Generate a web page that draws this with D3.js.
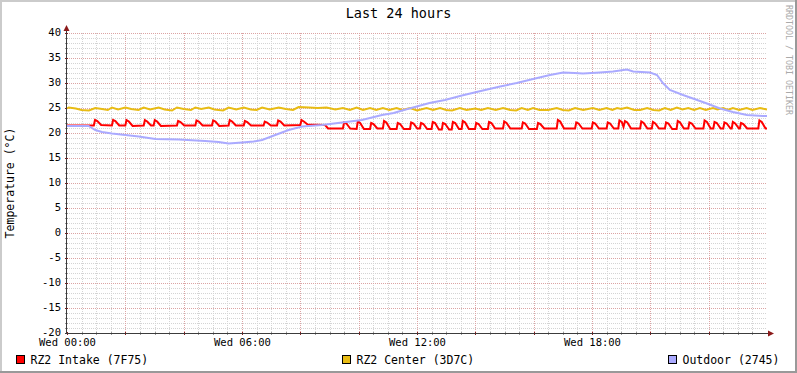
<!DOCTYPE html>
<html>
<head>
<meta charset="utf-8">
<script src="https://cdn.jsdelivr.net/npm/d3@7"></script>
<style>
  html, body { margin: 0; padding: 0; background: #fff; }
  svg { display: block; }
  text { font-family: "DejaVu Sans Mono", monospace; fill: #000; }
</style>
</head>
<body>
<svg id="chart"></svg>
<script>
// texts
const title = 'Last 24 hours';
const yLabel = 'Temperature (°C)';
const watermark = 'RRDTOOL / TOBI OETIKER';
const seriesNames = ['RZ2 Intake (7F75)', 'RZ2 Center (3D7C)', 'Outdoor (2745)'];
const seriesColors = ['#ff0000', '#e8bc14', '#aaaaff'];

// ticks
const yTicks = [-20, -15, -10, -5, 0, 5, 10, 15, 20, 25, 30, 35, 40];
const xTickHours = [0, 6, 12, 18];

// series: [hours since Wed 00:00, °C]
const intake = [
  [0, 21.5],
  [0.92, 21.5], [0.96, 22.6], [1.04, 22.4], [1.17, 21.6],
  [1.54, 21.5], [1.58, 22.6], [1.66, 22.4], [1.79, 21.5],
  [2.00, 21.5], [2.04, 22.6], [2.12, 22.3], [2.25, 21.4],
  [2.63, 21.5], [2.67, 22.6], [2.75, 22.3], [2.88, 21.5],
  [2.97, 21.5], [3.01, 22.6], [3.09, 22.3], [3.22, 21.4],
  [3.77, 21.5], [3.81, 22.4], [3.89, 22.2], [4.02, 21.5],
  [4.40, 21.5], [4.44, 22.5], [4.52, 22.3], [4.65, 21.5],
  [4.97, 21.5], [5.01, 22.5], [5.09, 22.3], [5.22, 21.4],
  [5.54, 21.5], [5.58, 22.6], [5.66, 22.3], [5.79, 21.5],
  [6.06, 21.5], [6.10, 22.4], [6.18, 22.2], [6.31, 21.5],
  [6.74, 21.5], [6.78, 22.3], [6.86, 22.1], [6.99, 21.5],
  [7.20, 21.5], [7.24, 22.5], [7.32, 22.3], [7.45, 21.5],
  [8.00, 21.6], [8.04, 22.6], [8.12, 22.3], [8.25, 21.7],
  [8.85, 21.6], [8.95, 20.9],
  [9.46, 20.9], [9.50, 22.1], [9.58, 21.9], [9.71, 20.9],
  [9.93, 20.8], [9.97, 22.3], [10.05, 22.0], [10.18, 20.8],
  [10.39, 20.8], [10.43, 22.0], [10.51, 21.8], [10.64, 20.9],
  [10.83, 20.9], [10.87, 22.4], [10.95, 22.1], [11.08, 20.8],
  [11.30, 20.8], [11.34, 22.0], [11.42, 21.8], [11.55, 20.8],
  [11.76, 20.8], [11.80, 22.1], [11.88, 21.9], [12.01, 20.9],
  [12.10, 20.9], [12.14, 22.0], [12.22, 21.8], [12.35, 20.8],
  [12.50, 20.8], [12.54, 22.2], [12.62, 22.0], [12.75, 20.7],
  [12.85, 20.7], [12.89, 22.0], [12.97, 21.8], [13.10, 20.7],
  [13.19, 20.7], [13.23, 22.2], [13.31, 22.0], [13.44, 20.8],
  [13.53, 20.8], [13.57, 22.4], [13.65, 22.1], [13.78, 20.8],
  [13.99, 20.8], [14.03, 22.0], [14.11, 21.8], [14.24, 20.8],
  [14.43, 20.8], [14.47, 22.2], [14.55, 22.0], [14.68, 20.9],
  [14.95, 20.9], [14.99, 22.3], [15.07, 22.0], [15.20, 20.9],
  [15.59, 20.9], [15.63, 22.1], [15.71, 21.9], [15.84, 20.8],
  [16.11, 20.8], [16.15, 22.0], [16.23, 21.8], [16.36, 20.9],
  [16.79, 20.9], [16.83, 22.6], [16.91, 22.3], [17.04, 20.9],
  [17.42, 20.9], [17.46, 22.1], [17.54, 21.9], [17.67, 20.9],
  [17.99, 20.9], [18.03, 22.1], [18.11, 21.9], [18.24, 20.9],
  [18.50, 20.9], [18.54, 22.1], [18.62, 21.9], [18.75, 20.9],
  [18.90, 20.9], [18.94, 22.5], [19.02, 22.2], [19.08, 21.2], [19.13, 22.4], [19.21, 22.1], [19.34, 20.9],
  [19.65, 20.9], [19.69, 22.3], [19.77, 22.0], [19.90, 20.9],
  [20.05, 20.9], [20.09, 22.2], [20.17, 21.9], [20.30, 20.9],
  [20.50, 20.9], [20.54, 22.1], [20.62, 21.9], [20.75, 20.8],
  [20.90, 20.8], [20.94, 22.4], [21.02, 22.1], [21.15, 20.9],
  [21.30, 20.9], [21.34, 22.1], [21.42, 21.9], [21.55, 20.9],
  [21.82, 20.9], [21.86, 22.5], [21.94, 22.2], [22.07, 20.9],
  [22.16, 20.9], [22.20, 22.2], [22.28, 22.0], [22.41, 20.9],
  [22.50, 20.9], [22.54, 22.1], [22.62, 21.9], [22.75, 20.9],
  [22.79, 20.9], [22.83, 22.2], [22.91, 21.9], [23.04, 20.9],
  [23.07, 20.9], [23.11, 22.0], [23.19, 21.8], [23.32, 20.9],
  [23.70, 20.9], [23.74, 22.5], [23.82, 22.2], [23.95, 20.9], [24, 20.9]
];

const center = [
  [0, 24.9], [0.06, 25.1], [0.3, 24.9], [0.5, 24.6], [0.75, 24.5], [0.97, 25.0], [1.2, 24.8], [1.4, 24.6],
  [1.54, 25.1], [1.75, 24.7], [2.0, 25.1], [2.2, 24.8], [2.45, 24.6], [2.63, 25.1], [2.85, 24.7], [3.14, 25.1],
  [3.35, 24.7], [3.6, 24.5], [3.77, 25.1], [4.0, 24.8], [4.25, 24.6], [4.40, 25.1], [4.6, 24.8], [4.86, 25.1],
  [5.05, 24.7], [5.35, 24.5], [5.54, 25.1], [5.8, 24.7], [6.06, 25.1], [6.3, 24.7], [6.5, 24.6], [6.69, 25.1],
  [6.95, 24.7], [7.26, 25.1], [7.5, 24.8], [7.75, 24.6], [7.94, 25.2], [8.3, 25.1], [8.6, 25.0], [8.9, 25.1],
  [9.2, 24.7], [9.46, 25.0], [9.7, 24.6], [9.93, 25.1], [10.15, 24.6], [10.39, 25.0], [10.6, 24.6], [10.83, 25.0],
  [11.05, 24.6], [11.30, 25.0], [11.5, 24.6], [11.76, 25.0], [12.0, 24.5], [12.33, 25.0], [12.55, 24.6], [12.79, 25.0],
  [13.0, 24.6], [13.2, 24.5], [13.47, 25.0], [13.7, 24.6], [14.0, 24.9], [14.2, 24.6], [14.43, 25.0], [14.7, 24.6],
  [14.95, 25.0], [15.2, 24.6], [15.4, 24.5], [15.59, 25.0], [15.8, 24.6], [15.98, 25.0], [16.2, 24.6], [16.5, 24.6],
  [16.79, 25.0], [17.0, 24.6], [17.2, 24.5], [17.42, 25.0], [17.7, 24.6], [18.03, 25.0], [18.25, 24.6], [18.50, 25.0],
  [18.7, 24.6], [18.86, 25.0], [19.0, 24.8], [19.2, 25.1], [19.45, 24.6], [19.65, 24.6], [19.89, 25.0], [20.1, 24.6],
  [20.3, 24.5], [20.50, 25.0], [20.7, 24.6], [20.91, 25.1], [21.1, 24.7], [21.30, 25.0], [21.5, 24.6], [21.7, 25.0],
  [21.9, 24.6], [22.15, 25.0], [22.3, 24.7], [22.5, 25.0], [22.65, 24.6], [22.83, 25.0], [23.05, 24.6], [23.3, 25.0],
  [23.5, 24.6], [23.76, 25.0], [24, 24.7]
];

const outdoor = [
  [0, 21.4], [0.74, 21.4], [0.97, 20.6], [1.2, 20.2], [1.54, 19.9], [2.0, 19.6], [2.46, 19.3], [3.03, 18.8],
  [3.83, 18.7], [4.74, 18.4], [5.2, 18.2], [5.54, 17.9], [6.0, 18.1], [6.4, 18.3], [6.69, 18.6], [7.14, 19.6],
  [7.6, 20.6], [8.06, 21.3], [8.74, 21.6], [9.43, 22.1], [10.11, 22.6], [10.8, 23.6], [11.2, 24.0], [11.55, 24.6],
  [11.93, 25.2], [12.43, 26.0], [12.96, 26.6], [13.54, 27.5], [14.26, 28.5], [14.85, 29.3], [15.42, 30.0], [15.98, 30.8],
  [16.56, 31.6], [17.01, 32.1], [17.4, 32.0], [17.69, 31.9], [18.27, 32.1], [18.72, 32.3], [19.2, 32.7], [19.41, 32.3],
  [19.99, 32.1], [20.23, 31.6], [20.43, 30.0], [20.67, 28.6], [21.12, 27.6], [21.46, 26.9], [21.94, 25.9], [22.39, 24.9],
  [22.83, 24.2], [23.31, 23.6], [23.86, 23.4], [24, 23.4]
];

const drawGraph = () => {
  // dimensions
  const width = 797;
  const height = 373;
  const left = 67, right = 767, top = 33, bottom = 333;
  const axisColor = '#3c3c3c';
  const arrowColor = '#8b1a1a';

  const t0 = new Date(2024, 0, 3, 0, 0); // a Wednesday
  const toDate = (h) => new Date(t0.getTime() + h * 3600e3);

  const svg = d3.select('#chart')
    .attr('width', width)
    .attr('height', height);

  // canvas + frame
  svg.append('rect').attr('width', width).attr('height', height).attr('fill', '#fff');
  svg.append('path').attr('d', `M1,${height} V1 H${width}`)
    .attr('fill', 'none').attr('stroke', '#cbcbcb').attr('stroke-width', 2);
  svg.append('path').attr('d', `M0,${height - 1} H${width - 1} V0`)
    .attr('fill', 'none').attr('stroke', '#999').attr('stroke-width', 2);

  // scales
  const xScale = d3.scaleTime()
    .domain([t0, toDate(24)])
    .range([left, right]);

  const yScale = d3.scaleLinear()
    .domain([-20, 40])
    .range([bottom, top]);

  // grid
  const grid = svg.append('g').attr('shape-rendering', 'crispEdges');
  const minorY = d3.range(-19, 41).filter((v) => v % 5 !== 0);
  const majorY = yTicks.filter((v) => v > -20);
  const minorX = d3.range(0.5, 24, 0.5).filter((h) => h % 2 !== 0);
  const majorX = d3.range(2, 24, 2);

  grid.selectAll('.minor-y').data(minorY).enter().append('line')
    .attr('x1', left).attr('x2', right)
    .attr('y1', (d) => Math.round(yScale(d)) + 0.5).attr('y2', (d) => Math.round(yScale(d)) + 0.5)
    .attr('stroke', '#d4d4d4').attr('stroke-dasharray', '1,1');
  grid.selectAll('.minor-x').data(minorX).enter().append('line')
    .attr('y1', top).attr('y2', bottom)
    .attr('x1', (d) => Math.round(xScale(toDate(d))) + 0.5).attr('x2', (d) => Math.round(xScale(toDate(d))) + 0.5)
    .attr('stroke', '#d4d4d4').attr('stroke-dasharray', '1,1');
  grid.selectAll('.major-y').data(majorY).enter().append('line')
    .attr('x1', left).attr('x2', right)
    .attr('y1', (d) => Math.round(yScale(d)) + 0.5).attr('y2', (d) => Math.round(yScale(d)) + 0.5)
    .attr('stroke', '#dca4a4').attr('stroke-dasharray', '1,1');
  grid.selectAll('.major-x').data(majorX).enter().append('line')
    .attr('y1', top).attr('y2', bottom)
    .attr('x1', (d) => Math.round(xScale(toDate(d))) + 0.5).attr('x2', (d) => Math.round(xScale(toDate(d))) + 0.5)
    .attr('stroke', '#dca4a4').attr('stroke-dasharray', '1,1');

  // small axis ticks
  grid.selectAll('.ytick').data(d3.range(-20, 41)).enter().append('line')
    .attr('x1', left - 2).attr('x2', left + 1)
    .attr('y1', (d) => Math.round(yScale(d)) + 0.5).attr('y2', (d) => Math.round(yScale(d)) + 0.5)
    .attr('stroke', (d) => d % 5 === 0 ? arrowColor : '#999');
  grid.selectAll('.xtick').data(d3.range(0, 24, 0.5)).enter().append('line')
    .attr('y1', bottom - 1).attr('y2', bottom + 2)
    .attr('x1', (d) => Math.round(xScale(toDate(d))) + 0.5).attr('x2', (d) => Math.round(xScale(toDate(d))) + 0.5)
    .attr('stroke', (d) => d % 2 === 0 ? arrowColor : '#999');

  // lines
  const line = d3.line()
    .x((d) => xScale(toDate(d[0])))
    .y((d) => yScale(d[1]));

  [intake, center, outdoor].forEach((series, i) => {
    svg.append('path')
      .datum(series)
      .attr('d', line)
      .attr('fill', 'none')
      .attr('stroke', seriesColors[i])
      .attr('stroke-width', 2)
      .attr('stroke-linejoin', 'miter');
  });

  // axes lines + arrows
  svg.append('line').attr('x1', left - 0.5).attr('x2', left - 0.5).attr('y1', bottom + 1).attr('y2', top - 5)
    .attr('stroke', axisColor);
  svg.append('line').attr('x1', left - 2).attr('x2', right + 3).attr('y1', bottom + 0.5).attr('y2', bottom + 0.5)
    .attr('stroke', axisColor);
  svg.append('path').attr('d', `M${left - 3.5},${top - 2} L${left - 0.5},${top - 8} L${left + 2.5},${top - 2} Z`)
    .attr('fill', arrowColor);
  svg.append('path').attr('d', `M${right + 1},${bottom - 2.5} L${right + 7},${bottom + 0.5} L${right + 1},${bottom + 3.5} Z`)
    .attr('fill', arrowColor);

  // y axis labels
  const yAxis = d3.axisLeft(yScale)
    .tickValues(yTicks)
    .tickSize(0)
    .tickPadding(0)
    .tickFormat((d) => String(d));

  svg.append('g')
    .attr('transform', `translate(${left - 6}, -1)`)
    .call(yAxis)
    .call((g) => g.select('.domain').remove())
    .selectAll('text')
    .style('font-family', '"DejaVu Sans Mono", monospace')
    .style('font-size', '10.5px')
    .attr('fill', '#000');

  // x axis labels
  const xAxis = d3.axisBottom(xScale)
    .tickValues(xTickHours.map(toDate))
    .tickSize(0)
    .tickPadding(0)
    .tickFormat(d3.timeFormat('%a %H:%M'));

  svg.append('g')
    .attr('transform', `translate(0, ${bottom + 6})`)
    .call(xAxis)
    .call((g) => g.select('.domain').remove())
    .selectAll('text')
    .style('font-family', '"DejaVu Sans Mono", monospace')
    .style('font-size', '10.5px')
    .attr('fill', '#000');

  // title
  svg.append('text')
    .attr('x', width / 2)
    .attr('y', 18)
    .attr('text-anchor', 'middle')
    .style('font-size', '13.5px')
    .text(title);

  // y-axis header
  svg.append('text')
    .attr('transform', `translate(14, ${(top + bottom) / 2}) rotate(-90)`)
    .attr('text-anchor', 'middle')
    .style('font-size', '11.5px')
    .text(yLabel);

  // watermark
  svg.append('text')
    .attr('transform', 'translate(785.5, 5) rotate(90)')
    .style('font-size', '8.3px')
    .style('fill', '#aaa')
    .text(watermark);

  // legend
  const legendX = [16, 342, 668];
  const legend = svg.selectAll('.legend')
    .data(seriesNames)
    .enter()
    .append('g')
    .attr('transform', (d, i) => `translate(${legendX[i]}, 355)`);

  legend.append('rect')
    .attr('x', 0.5).attr('y', 0.5)
    .attr('width', 8).attr('height', 8)
    .attr('fill', (d, i) => seriesColors[i])
    .attr('stroke', '#000');

  legend.append('text')
    .attr('x', 14.5)
    .attr('y', 8.5)
    .style('font-size', '11.5px')
    .text((d) => d);
};

drawGraph();
</script>
</body>
</html>
